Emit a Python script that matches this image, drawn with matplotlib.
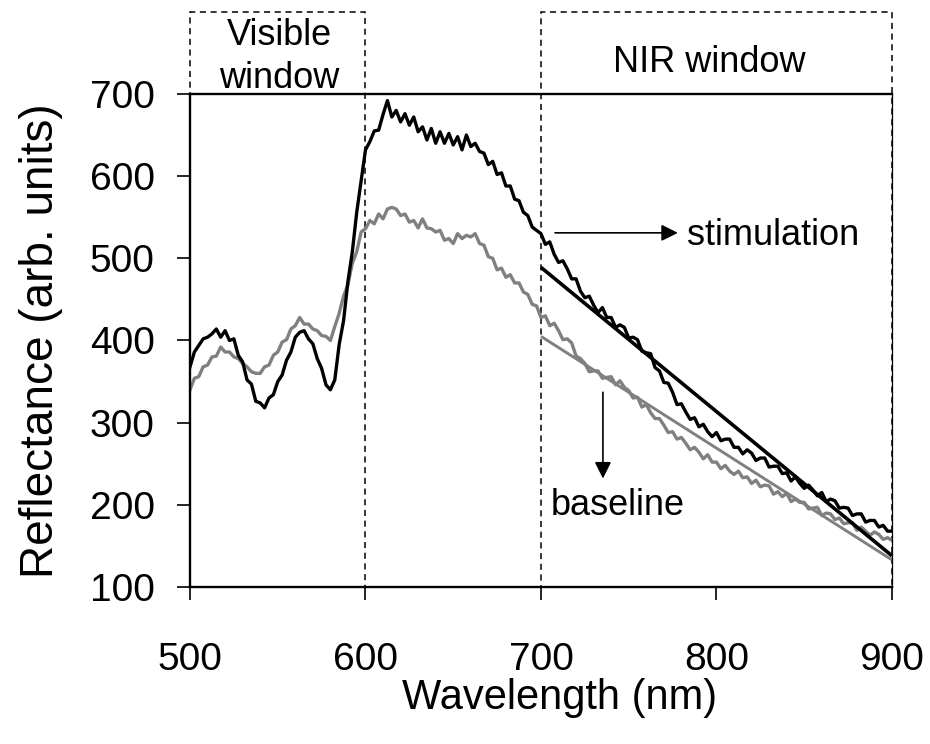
import numpy as np
import matplotlib
matplotlib.use("Agg")
import matplotlib.pyplot as plt
from matplotlib.patches import Rectangle

plt.rcParams['font.family'] = ['Liberation Sans', 'DejaVu Sans']

# reflectance spectra, 2.5 nm steps from 500 to 900 nm
stimulation = [
    368, 386, 394, 402, 404, 408, 414, 404, 412, 400,
    402, 382, 374, 352, 347, 326, 324, 318, 330, 334,
    350, 358, 376, 386, 404, 410, 412, 402, 396, 378,
    366, 346, 340, 352, 395, 424, 472, 508, 556, 594,
    632, 642, 655, 656, 675, 692, 672, 680, 666, 676,
    662, 672, 654, 660, 644, 658, 640, 654, 640, 652,
    638, 648, 632, 650, 636, 640, 630, 628, 614, 618,
    602, 604, 588, 588, 572, 570, 556, 552, 538, 534,
    530, 517, 520, 505, 495, 497, 487, 475, 475, 460,
    452, 454, 443, 434, 440, 428, 428, 416, 419, 416,
    403, 404, 401, 387, 385, 384, 367, 363, 349, 348,
    337, 322, 323, 313, 304, 306, 295, 298, 289, 283,
    288, 278, 280, 280, 270, 270, 262, 267, 263, 254,
    257, 257, 246, 247, 247, 238, 239, 229, 234, 226,
    220, 224, 218, 211, 215, 204, 207, 205, 196, 197,
    196, 187, 189, 189, 179, 181, 181, 173, 175, 168,
    168,
]
baseline = [
    340, 354, 356, 368, 370, 380, 381, 392, 386, 386,
    380, 378, 372, 368, 362, 360, 360, 368, 370, 382,
    386, 398, 401, 414, 418, 428, 420, 420, 414, 412,
    406, 405, 400, 417, 433, 454, 468, 494, 508, 532,
    536, 546, 542, 554, 548, 560, 562, 560, 552, 554,
    544, 546, 537, 548, 537, 536, 532, 534, 522, 524,
    518, 530, 524, 528, 526, 530, 518, 516, 502, 500,
    486, 488, 477, 480, 470, 470, 459, 456, 444, 442,
    428, 430, 418, 421, 412, 401, 402, 397, 381, 378,
    372, 362, 363, 363, 354, 355, 356, 346, 351, 343,
    339, 330, 331, 319, 322, 312, 305, 305, 297, 288,
    289, 280, 282, 275, 267, 270, 264, 256, 261, 252,
    252, 244, 248, 241, 237, 241, 233, 234, 226, 230,
    222, 224, 223, 213, 216, 210, 214, 204, 207, 203,
    203, 195, 196, 197, 187, 190, 189, 182, 184, 177,
    178, 178, 169, 173, 168, 163, 167, 164, 158, 160,
    157,
]
wavelength = np.linspace(500, 900, len(stimulation))

# straight fits over the NIR window
fit_x = [700, 900]
fit_stim = [489, 138]
fit_base = [405, 133]

fig = plt.figure(figsize=(9.3, 7.44), dpi=100)
ax = fig.add_axes([0.2043, 0.211, 0.7548, 0.6627])

ax.plot(wavelength, baseline, color='#808080', lw=2.4)
ax.plot(wavelength, stimulation, color='black', lw=2.4)
ax.plot(fit_x, fit_stim, color='black', lw=2.6, solid_capstyle='butt')
ax.plot(fit_x, fit_base, color='#808080', lw=2.1, solid_capstyle='butt')

ax.set_xlim(500, 900)
ax.set_ylim(100, 700)
ax.set_xticks([500, 600, 700, 800, 900])
ax.set_yticks([100, 200, 300, 400, 500, 600, 700])
ax.tick_params(axis='both', labelsize=28, width=1.2, length=9.5, direction='out')
ax.tick_params(axis='x', pad=30)
ax.tick_params(axis='y', pad=16)
for s in ['left', 'bottom', 'top']:
    ax.spines[s].set_linewidth(1.7)
ax.spines['right'].set_linewidth(0.9)

ax.set_xlabel('Wavelength (nm)', fontsize=30, labelpad=0)
ax.xaxis.set_label_coords(0.526, -0.185)
ax.set_ylabel('Reflectance (arb. units)', fontsize=33, labelpad=19)

# dashed window boxes (reach above the plot)
for x0, x1 in [(500, 600), (700, 900)]:
    ax.add_patch(Rectangle((x0, 100), x1 - x0, 700, fill=False, ec='black',
                           lw=1.1, ls=(0, (4, 3)), clip_on=False))

ax.text(551, 760, 'Visible', fontsize=26, ha='center', va='baseline')
ax.text(551, 707, 'window', fontsize=26, ha='center', va='baseline')
ax.text(796, 727, 'NIR window', fontsize=26, ha='center', va='baseline')

ax.annotate('', xy=(778, 531), xytext=(708, 531),
            arrowprops=dict(arrowstyle='-|>', color='black', lw=1.2,
                            mutation_scale=25, shrinkA=0, shrinkB=0))
ax.text(783, 516, 'stimulation', fontsize=26, ha='left', va='baseline')
ax.annotate('', xy=(735.3, 232), xytext=(735.3, 337),
            arrowprops=dict(arrowstyle='-|>', color='black', lw=1.2,
                            mutation_scale=25, shrinkA=0, shrinkB=0))
ax.text(705.5, 188, 'baseline', fontsize=26, ha='left', va='baseline')

fig.savefig('out.png', dpi=100)
